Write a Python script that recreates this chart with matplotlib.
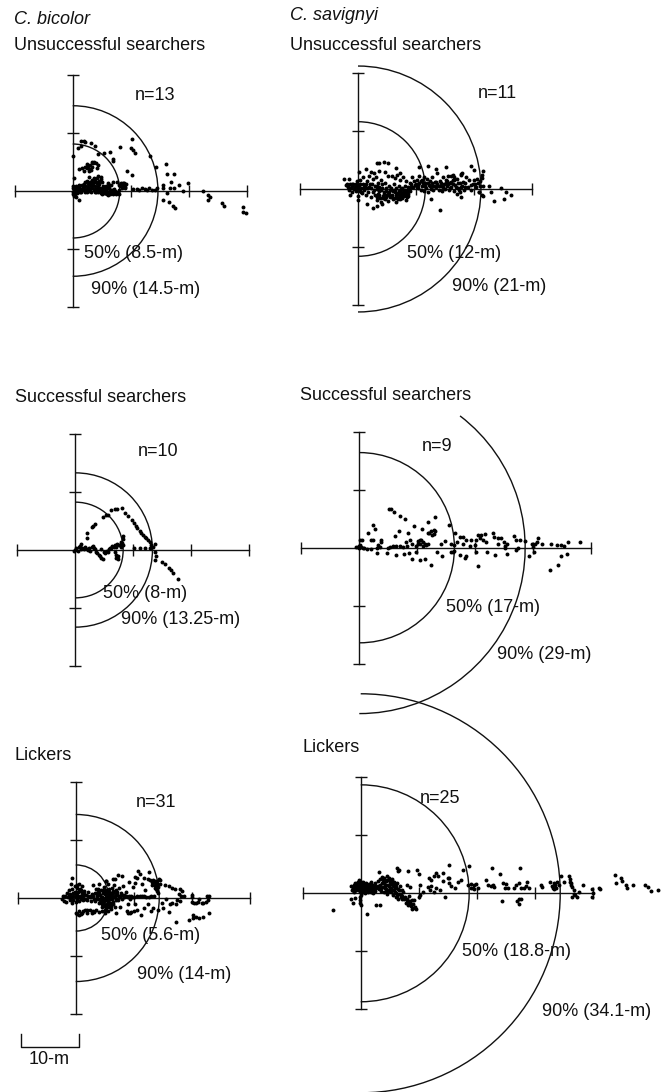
import matplotlib
matplotlib.use("Agg")
import matplotlib.pyplot as plt
from matplotlib.patches import Arc

W, H = 667, 1092
S = 5.8  # px per metre
plt.rcParams["font.family"] = ["Liberation Sans", "DejaVu Sans"]

# track points, metres from the release point
bic_unsucc = [
    (1.5,8.6),(1.9,8.6),(2.1,8.5),(0.9,7.5),(1.4,7.7),(3.1,8.3),(3.8,7.8),(0,6.0),(4.3,6.3),(5.4,6.5),(6.5,6.7),
    (6.9,5.5),(7,5.2),(8.1,7.6),(10.2,9.0),(10,7.4),(10.4,7.1),(10.8,6.6),(13.3,6),(14.4,4.2),(9.4,3.4),(10.2,2.7),
    (16.1,4.6),(16.3,3),(17.5,2.9),(16.9,1.6),(18.4,1),(19.9,1.3),(19,0),(22.4,0),(23.4,-0.7),(23.7,-1.1),(23.3,-1.6),
    (25.7,-2),(26,-2.5),(29.3,-2.7),(29.4,-3.7),(29.9,-3.8),(15.5,-1.5),(16.6,-1.9),(17.3,-2.6),(17.7,-2.9),(16.3,-0.3),
    (16.7,0.5),(15.5,1),(15.6,0.5),(17.5,0.6),
    (1.0,3.8),(1.6,4),(2.2,4.1),(2.5,3.9),(2.9,3.8),(3.2,3.7),(3.4,4.2),(3.5,4.8),(3.3,5),(3.6,5),(4,4.8),(4.4,4.5),
    (2.4,4.6),(4.2,3.9),(1.9,3.5),
    (1,1),(2,1.2),(2.5,1.8),(2.8,2.4),(3,1.2),(3.3,1.9),(3.6,2.3),(4,1.6),(4.4,2.6),(4.5,1.2),(4.8,2.5),(5,1.6),
    (5.3,0.9),(6,1.3),(6.6,1),(7,1.5),(7.7,1.6),(8,1),(8.5,1.2),(8.9,1.4),(9,0.7),(0.3,2.2),
    (0,0.5),(0,-0.2),(0.1,0.9),(0.2,0.2),(0.3,-0.4),(0.4,0.6),(0.5,0),(0.7,0.3),(0.9,-0.2),(1,0.5),(1.2,0.1),(1.4,0.4),
    (1.5,-0.2),(1.7,0.7),(1.9,0.1),(2,0.4),(2.2,-0.1),(2.4,0.3),(2.6,0.7),(2.8,0),(3,0.3),(3.2,-0.2),(3.4,0.5),(3.6,0.1),
    (3.8,0.8),(4,-0.1),(4.2,0.3),(4.4,0.6),(4.6,0),(4.8,-0.3),(5,0.3),(5.2,0.6),(5.4,0),(5.6,-0.3),(5.8,0.2),(6,0.5),
    (6.2,-0.2),(6.4,0.1),(6.6,-0.4),(6.8,0.2),(7,-0.2),(7.3,0),(7.6,-0.3),(7.9,0.1),(8,-0.5),
    (8.2,0.8),(8.5,0.5),(8.8,1),(9,0.6),(8.6,1.3),(9.2,1.2),
    (10.4,0.3),(11,0.4),(11.5,0.2),(12,0.5),(12.4,0.3),(12.8,0.2),(13.2,0.6),(13.7,0.2),(14.2,0.2),(14.5,0.6),
    (0.4,-0.5),(0.6,-1),(1,-1.5),(0.2,-0.8),(5,-0.6),(5.5,-0.4),(6,-0.7),(6.4,-0.3),(7,-0.5),(7.5,-0.6),(7.8,-0.2),(0.8,-0.3),
]
# extra points in the dark parts of the same panel
bic_unsucc_dense = [
    (0.6,0.9),(1.1,0.9),(1.6,0.3),(2.1,0.8),(2.7,0.3),(3.1,0.8),(3.5,1.1),(3.9,0.4),(4.3,0.9),(4.7,0.6),(5.1,0.1),(5.5,0.5),
    (5.9,-0.2),(6.3,0.6),(6.7,0),(7.1,0.3),(2.9,1.6),(3.4,1.4),(3.8,2),(4.2,2.3),(4.6,1.8),(4.2,1.3),(3.7,1.6),(4.9,2),(2.6,1.2),
    (2.2,1.5),(1.6,1.1),(5.7,0.9),(6.3,1),(2.6,4.3),(3,4.4),(2.8,3.4),(1.3,-0.1),(2.5,-0.1),(3.9,-0.2),(4.4,-0.1),(5.2,-0.3),
    (5.9,-0.5),(6.5,-0.6),(7.2,-0.4),(0.2,0.5),(0.5,0.3),(0.1,-0.6),(8.7,0.9),(8.3,1.3),
]
sav_unsucc = [
    (3.3,4.5),(3.6,4.5),(4.5,4.7),(5.2,4.4),(1.4,3.5),(0.2,2.9),(2.3,3),(3.7,3.1),(4.6,3),(6.6,3.7),(7.2,2.7),(10.5,3.8),
    (12.1,3.9),(13.5,3.5),(15.2,3.8),(19.5,3.9),(20,3.3),(21.5,3.1),(18,2.8),(17.8,2.6),(21.4,2.4),(16.3,2.4),(-2.5,1.8),(-1.5,1.7),
    (14.1,-3.6),(23.5,-2),(25.2,-1.7),(25.5,-0.6),(26.3,-1),(24.7,0.1),(22.5,0.5),(22.9,-0.5),(21.6,-1.2),(20.9,-0.5),(12.6,-1.8),
    (2.5,-3.3),(3.3,-3),(4.1,-2.5),(1.5,-2.5),(0,-1.9),(-1.4,-1),(6.6,-2.2),(8.3,-1.9),(17.8,-1.3),
    (-2,0.7),(-1.8,0.3),(-1.6,-0.2),(-1.9,0.9),(-1.4,0.8),(-1.2,0.2),(-1,0.6),(-1,-0.5),(-0.8,0.9),(-0.6,0.3),(-0.4,-0.4),
    (-0.3,0.8),(-0.1,1.3),(0,0.2),(0,-1.2),(0.2,0.7),(0.3,-0.3),(0.4,1.6),(0.6,0.2),(0.7,-0.7),(0.8,2.1),(0.9,0.9),(1,-0.2),
    (1.2,0.5),(1.3,-1),(1.5,1.4),(1.6,0.1),(1.8,-0.6),(1.9,2.3),(2,0.9),(2.2,-1.4),(2.3,0.2),(2.5,1.8),(2.6,-0.5),(2.7,2.7),
    (2.9,0.6),(3,-1),(3.1,2),(3.2,0),
    (3.3,-1.9),(3.4,1),(3.5,-0.8),(3.6,0.3),(3.8,-1.5),(3.9,1.6),(4,-2.2),(4,-0.2),(4.2,0.8),(4.3,-1.2),(4.5,-0.5),(4.6,-1.8),
    (4.7,1),(4.9,0.1),(5,-1),(5.1,-2.0),(5.2,2.3),(5.3,0.5),(5.4,-0.5),(5.5,-1.4),(5.7,0.2),(5.8,2.2),(5.9,-1),(6,-0.3),
    (6.1,-1.8),(6.2,0.8),(6.3,-0.6),(6.4,1.9),(6.5,-1.3),(6.6,0.2),(6.7,-0.8),(6.8,2.4),(6.9,-1.7),(7,-0.3),(7.1,0.6),(7.2,-1),
    (7.3,1.6),(7.4,-0.5),(7.5,-1.5),(7.6,0.2),(7.7,-0.9),(7.8,2),(7.9,-0.2),(8,-1.2),(8.1,0.5),(8.2,-0.6),(8.3,1.3),(8.4,-1.4),
    (8.5,-0.2),(8.6,0.4),(8.7,-0.8),(8.9,1),(9,-0.4),(9.2,0.8),(9.3,2),(9.5,0.3),(9.7,1.4),
    (10,0.8),(10.2,1.6),(10.3,0.2),(10.5,2.2),(10.6,1),(10.8,-0.1),(11,1.5),(11.1,0.6),(11.3,2),(11.4,-0.3),(11.5,1),(11.7,0.2),
    (11.9,1.7),(12,-0.6),(12.2,0.7),(12.4,1.4),(12.5,0),(12.7,2.1),(12.9,0.6),(13,-0.2),(13.2,1.2),(13.4,0.3),(13.6,2.7),(13.7,0.8),
    (13.9,-0.1),(14.1,1.4),(14.3,0.5),(14.5,-0.4),(14.6,2),(14.8,0.9),(15,0),(15.2,1.6),(15.4,0.5),(15.5,2.2),(15.7,-0.2),(15.9,1),
    (16,2.3),(16.1,0.3),(16.3,1.5),(16.5,2),(16.6,-0.4),(16.8,0.7),(17,1.7),(17.1,-0.9),(17.3,0.2),(17.5,1.1),(17.6,-0.5),(17.8,2.4),
    (18,0.6),(18.2,-0.1),(18.5,1),(18.7,2),(19,0.4),(19.2,1.5),(19.5,-0.2),(19.8,0.8),(20,1.6),(20.3,0.3),(20.6,1.8),(20.9,-0.6),
    (21,1.3),(21.3,1.9),(21.4,-1.1),(21.6,0.5),
]
sav_unsucc_dense = [
    (-1.7,0.5),(-1.1,0.9),(-0.7,0),(-0.2,0.5),(0.4,0.9),(0.5,-0.5),(1,0.4),(1.4,0.9),(1.9,0.4),(2.4,0.8),(2.8,-0.1),(3.3,0.6),
    (3.7,-0.4),(4.1,0.2),(4.4,-0.9),(4.8,-0.4),(5.2,-0.9),(5.6,-0.2),(5.9,-1.4),(6.3,-0.1),(6.6,-1),(6.9,-0.7),(7.1,-1.4),(7.4,0),
    (7.6,-1.2),(7.9,-0.6),(8.2,-1),(8.5,-0.6),(8.8,-0.2),(9.1,0.3),(3.2,-1.4),(3.7,-1.1),(4.3,-1.6),(4.9,-1.4),(5.4,-1.1),(6.4,-1.6),
    (7.3,-1.8),(8.7,-1.2),(9.8,0.7),(10.1,0.3),(10.4,0.7),(10.8,1.4),(11.2,1),(11.6,0.5),(12,1.1),(12.4,0.5),(12.8,1),(13.1,0.5),
    (13.5,1.2),(13.9,0.6),(14.3,1),(14.7,0.3),(15.1,1),(15.4,1.3),(15.6,0.9),(15.8,0.1),(16.1,1.2),(16.4,0.8),(16.6,1.6),(16.9,0.3),
    (17.2,1),(17.4,-0.2),(17.8,0.4),(18.1,1.2),(18.4,0.3),(19.4,0.7),(20.1,0.9),(20.7,1.1),(21.1,0.6),
]
bic_succ = [
    (2.1,2),(2.1,2.9),(2.9,3.9),(3.1,4.2),(3.4,4.5),(4.8,5.7),(5.3,6),(5.6,6.1),(6.2,6.9),(6.8,7),(7.2,7),(8.1,7.3),(8.5,6.3),
    (9.1,5.9),(9.7,5.1),(10.1,4.6),(10.4,4.2),(10.7,3.8),(11.1,3.3),(11.4,3),(11.7,2.6),(12,2.3),(12.2,2),(12.5,1.7),(12.8,1.3),
    (13.1,0.9),(13.4,0.5),(13.8,1),(13.7,-0.3),(13.9,-1),(13.8,-1.7),(15,-2),(15.5,-2.4),(16.2,-3.1),(16.5,-3.5),(16.8,-3.9),(17.7,-5),
    (10.2,0.3),(11.1,0.4),(12,0.4),(12.8,0.4),
    (-0.3,-0.2),(0,0),(0.2,0.3),(0.4,-0.1),(0.6,0.6),(0.8,0.7),(0.9,0.2),(1,1),(1.2,0.4),(1.5,0.1),(1.7,0.6),(2,0.2),(2.2,0),
    (2.4,0.4),(2.6,-0.1),(2.8,0.5),(3,0.7),(3.3,0.3),(3.5,-0.3),(3.7,-0.6),(4,-0.9),(4.3,-1.1),(4.5,-1.4),(4.7,-1.6),(5,-0.3),
    (5.2,-0.5),(5.4,-0.1),(5.6,-0.4),(5.8,0.1),(6,0.4),(6.2,0.3),(6.4,0.7),(6.6,0.6),(6.8,0.9),(7,0.5),(7.2,1),(7.5,0.8),(7.8,1.1),
    (7.9,1.4),(8.1,1.2),(8.2,1.9),(8.2,2.4),(8.3,0.9),(7.9,0.6),(7,-0.8),(7.3,-1.0),(7.1,-1.4),(7.3,-1.6),(6.8,-0.4),(3.4,0.2),(4.5,0.1),
]
sav_succ = [
    (-0.6,0.1),(-0.3,0.1),(0,0.3),(0,-0.1),(0.2,0.4),(0.3,0.1),(0.4,1.3),(0.6,0),(0.8,-0.1),
    (5.1,6.7),(5.5,6.6),(5.9,6.2),(7,5.4),(7.9,4.9),(13.1,5.3),(11.9,4.5),(9.4,3.8),(10.8,3.2),(15.5,3.9),(2.4,4),(2.7,3.2),(1.5,2.5),
    (6.8,2.9),(6.1,2.1),(8.4,2.5),(2.1,1.4),(2.4,1.3),(3.8,1.4),(3.7,1),(0.2,1.3),(3.3,0.5),(3.6,0.2),
    (12.1,2.5),(12.4,2.9),(12.8,3),(13.1,2.9),(12.6,2.2),(12.9,2.3),(11.9,2.6),
    (10.1,1.2),(10.4,1.4),(10.7,1.3),(11,1),(11.3,0.7),(11.5,0.5),(11.8,0.7),(10.1,0.6),(10.5,0.6),(11,0.3),(9.8,0.3),(8.1,1),(8.8,1.3),
    (9,0.6),(8.2,0.3),(14.1,0.6),(14.7,1.2),(15.8,0.6),
    (5.3,0.2),(5.8,0.3),(6.4,0.3),(7,0.3),(7.5,0.2),(5,-0.1),(1.3,-0.2),(2.1,-0.3),(3.1,-0.1),
    (3.1,-0.9),(4.7,-0.9),(6.4,-1.2),(7.7,-1.1),(8.5,-0.9),(9,-1.9),(9.8,-0.7),(10.5,-2.2),(11.4,-2),(12.4,-3),(13.4,-0.7),(14.3,-1.4),
    (15.8,-0.8),(16.1,-0.7),(16.4,-0.5),(17.3,-1.3),(18.2,-1.8),(18.4,-1.5),(20.4,-3.1),(20.1,-0.7),(22.1,-0.8),(23.4,-1.3),(25.5,-1),
    (29.3,-1.5),(30.1,-0.7),(32.9,-3.8),(34.2,-2.9),(34.8,-1.4),(35.8,-1),
    (16.5,2.5),(17.3,1.8),(17.8,1.9),(18.4,1.3),(19.3,1.3),(16.9,1),(17.8,0.7),(16.4,0.5),(19,0.3),(19.9,0.5),(20.4,2.2),(21,2.2),(20.2,1.3),
    (20.8,1.6),(21.3,1.3),(21.8,0.9),(21.6,2.3),(23.1,2.5),(23.3,1.8),(23.9,1.6),(24.4,1.6),(23.9,0.6),(25,1),(25.2,0.3),(25.5,0.6),(25.2,-0.1),
    (26.7,2.1),(27,1.3),(27.7,1.3),(27,-0.4),(27.3,-0.1),(28.6,1.2),(29.8,0.7),(30.3,0.7),(29.9,0.2),(30.8,1.6),(30.7,0.9),(31.5,0.7),(33.1,0.6),
    (34.1,0.5),(34.7,0.5),(35.3,0.3),(36,1),(38.1,0.9),
]
bic_lick = [
    (-2.4,-0.2),(-2.2,0.3),(-2,-0.5),(-1.8,0.4),(-1.6,-0.7),(-1.5,0.9),(-1.3,0.1),(-1.1,1.3),(-1,-0.3),(-0.9,0.7),(-0.7,-0.8),(-0.6,1.6),
    (-0.5,0.3),(-0.4,-0.3),(-0.2,1),(-0.1,2.1),(0,0.1),(-0.7,3.4),(-0.8,2.5),
    (0,-0.7),(0.1,0.7),(0.2,1.8),(0.3,-0.2),(0.4,1.1),(0.5,2.4),(0.5,0.2),(0.6,-0.6),(0.7,1.5),(0.8,0.4),(0.9,-0.1),(1,2),(1.1,0.9),(1.2,-0.4),
    (1.3,0.3),(1.5,1.2),(1.6,-0.1),(1.8,0.5),(2,-0.3),(2.2,1.1),(2.4,0.2),(2.6,-0.5),(2.8,0.7),(3,2.2),(3.1,-0.1),(3.3,0.8),(3.4,-0.6),(3.5,1.6),
    (3.6,0.3),(3.8,-0.2),(3.9,1.1),(4,-0.8),(4.1,2.5),(4.2,0.5),(4.3,-0.3),(4.4,1.4),(4.5,-1),(4.6,0.2),(4.7,0.9),(4.8,-0.6),(4.9,1.9),(5,0),
    (5,-1.3),(5.1,0.7),(5.2,-0.4),(5.3,1.4),(5.4,-1),(5.5,0.3),(5.6,2.4),(5.7,-0.2),(5.8,1),(5.9,-0.8),(6,0.4),(6.1,-1.4),(6.2,1.7),(6.3,-0.1),
    (6.4,0.9),(6.5,-0.7),(5.3,2.9),(5.2,3),
    (6.6,2.2),(6.8,0.3),(6.9,-0.4),(7,1.4),(7.2,0.6),(7.3,-0.3),(7.5,1.7),(7.6,0.1),(7.8,0.9),(8,-0.2),(8.2,2),(8.4,0.2),(8.7,1),(9,0.1),(9.2,2.8),
    (9.3,-0.1),(9.6,0.4),(9.8,1.9),(10,0.1),(10.3,2.6),(10.5,0.4),(10.2,3.7),(10.7,4.6),(11,4.2),(10.6,3.4),(11.4,2.5),(11.5,0.4),(11.8,3.5),(12,1.3),
    (12.2,0.2),(12.5,3.2),(12.7,4.4),(8,3.8),(7.3,4),(6.8,3.3),(6.5,3.2),(13,0.3),
    (12.8,3.1),(13.1,2.8),(13.4,3.1),(13.7,2.9),(14,3),(14.3,3.2),(14.6,3.1),(13.2,2.3),(13.6,2.3),(14,2.4),(14.2,1.9),(13.7,1.7),(14,1.2),(14.2,0.9),(14.5,2.5),
    (15.4,2.3),(16,2),(16.6,1.8),(17.2,1.5),(18,1.6),(18.4,1.2),(17.8,0.7),(18.1,0.3),(18.6,0.3),(16.3,-1),(15.5,-0.2),
    (20,0.6),(20,0.2),(20.1,-0.7),(20.4,-0.8),(20.8,-0.9),(21.1,-0.7),(21.3,-0.2),(21.7,-0.8),(22,-0.9),(22.5,-0.7),(22.8,-0.3),(23,0.3),(22.7,0.4),
    (17.3,-4.1),(19.5,-3.8),(20.2,-3.5),(20.7,-3.3),(21.3,-3.5),(21.9,-3.2),(22.9,-2.6),(20.2,-2.9),
    (0.3,-2.7),(0.6,-2.9),(0.9,-2.8),(0.5,-2.2),(1.2,-2.2),(1.6,-2),(2,-2.5),(2.4,-2.1),(2.8,-2.6),(3.2,-2.4),(3.5,-2.1),(4.1,-2.4),(4.6,-2.2),(5,-2),
    (5.5,-2.3),(5.1,-2.6),(6.9,-2.5),(9,-2.6),(8.8,-2.3),(9.3,-2.6),(9.6,-2.4),(10,-2.2),(10.6,-2),(11.2,-2.9),(11.8,-1.8),(12.4,-1),(12.9,-2.3),(13.4,-1.7),
    (14.2,-2),(15,-1.8),(16,-2.4),(10.2,-1),(9,-1.1),(7.7,-1.6),(14.8,-0.8),(16.6,-0.8),(17.3,-1),(18,-0.6),(17.4,-0.3),(5.2,-1.7),(6,-1.9),(5.5,-0.7),
]
bic_lick_dense = [
    (-1.2,0.6),(-0.8,0.1),(-0.4,0.8),(0.2,0.5),(0.6,1.2),(1,0.3),(1.4,0.7),(0.9,1.4),(0.3,2.2),(2.2,0.3),(2.6,0.3),(3,0.3),(3.3,-0.2),(3.7,0.7),
    (3.8,1.6),(4.1,0.9),(4.2,-0.7),(4.4,0.2),(4.6,-0.6),(4.7,1.4),(4.9,-0.2),(5.1,1.2),(5.3,0.2),(5.4,0.8),(5.6,-0.6),(5.7,0.5),(5.8,1.5),(5.9,-0.2),
    (6.1,0.9),(6.2,-0.9),(6.3,0.4),(6.5,1.2),(6.7,0.2),(6.9,0.8),(7,-0.1),(7.2,1),(7.4,0.3),(7.7,0.4),(8,0.5),(8.3,0.6),(8.7,0.3),(9.2,0.4),(9.7,0.2),
    (4.5,-1.5),(4.9,-1.1),(5.3,-1.5),(5.7,-1.1),(6.4,-1.1),(6.7,-1.5),(5.8,-1.6),(0.1,-2.5),(1,-2.5),(1.9,-2.1),(2.9,-2.2),(11,0.3),(11.7,0.3),(12.6,0.2),(13.5,0.4),
    (13.4,2.7),(13.8,2.6),(13.9,2),(13.9,1.6),
]
sav_lick = [
    (-1.6,1.2),(-1.5,0.5),(-1.3,0.9),(-1.2,1.5),(-1.1,0.2),(-1,1),(-0.9,1.7),(-0.8,0.5),(-0.7,1.3),(-0.5,2),(-0.5,0.7),(-0.4,1.1),(-0.3,2.3),(-0.2,0.3),
    (-0.1,1.6),(0,0.8),(0.1,1.9),(0.2,0.3),(0.3,1.2),(0.4,2),(0.5,0.6),(0.6,1.5),(0.7,0.1),(0.8,1),(0.9,1.7),(1,0.5),(1.1,1.3),(1.2,0.9),(1.3,0.2),(1.4,1.6),
    (1.5,0.7),(1.6,1.2),(1.7,0.3),(1.8,2),(1.9,1),(2,1.5),(2.1,0.5),(2.2,0.1),(2.3,1.1),(2.4,1.8),(2.5,0.4),(2.6,0.9),
    (-0.1,-1.1),(-0.2,-1.6),(0,-2),(-0.2,-0.6),(0.1,-0.3),(-1.4,-1.6),(-1.7,-1),(-0.9,-0.8),(-4.7,-2.9),(1,-3.6),(2.6,-2),(3.4,-2),
    (2.9,1.3),(3,2.2),(3.2,0.7),(3.3,2.5),(3.4,1.5),(3.5,0.4),(3.7,2.8),(3.8,1.1),(3.9,1.9),(4,0.2),(4.1,2.6),(4.2,1.3),(4.3,0.7),(4.4,2.2),(4.5,2.9),(4.6,-0.1),
    (4.7,1.5),(4.8,0.6),(4.9,2.6),(5,1.9),(5.1,1),(5.2,0.2),(5.3,1.6),(5.4,2.4),(5.5,0.6),(5.6,-0.3),(5.7,1.3),(5.8,2),(5.9,0.3),(6,-0.7),(6.1,1.1),(6.2,1.8),
    (6.3,-0.2),(6.5,-0.9),(6.6,0.5),(6.8,1.3),(7,-0.3),(7.2,-0.9),(7.3,0.3),
    (7.2,-0.5),(7.5,-1),(7.8,-1.6),(8,-1),(8.2,-2),(8.5,-1.4),(8.7,-2.2),(8.9,-2.7),(9,-1.8),(9.3,-2.3),(9.5,-2.7),(9.2,-1.1),(8.3,-0.5),
    (3.1,3.7),(6.2,4.3),(6.6,4.1),(6.4,3.9),(8.2,3.8),(9.7,4),(10.1,3.3),(12.9,3.5),(14.2,3.5),(15.3,4.9),(17.6,4.1),(18.7,4.7),(12.7,3),(11.7,2.7),(12.2,2.3),
    (13.4,3),(15.3,2.7),(15,2.6),(14.2,2.1),(17.3,2.3),(16.7,2),(15.2,1.7),(15.6,1.3),(16.2,1),(7.9,1.4),(8.5,1.1),(10.2,1.4),(11.6,1.1),(12.2,1.3),(13,1),(11.9,0.6),
    (12.6,0.3),(13.6,0.6),(10.7,0.3),(10.2,-0.3),(10.1,-0.6),(14.5,-0.6),
    (18.5,1.4),(19,1.6),(19,0.9),(19.6,1.5),(20.2,0.9),(19.3,1),(19.6,0.7),(19.9,1.6),
    (21.6,2.3),(22.7,4.4),(24,3.4),(22,1.5),(22.5,1.3),(23,1.1),(22.8,1.4),(24.5,1.7),(25.1,1.6),(24.8,0.9),(25.4,0.9),(24.3,-1.4),(27.5,4.3),(26.7,1.5),(27.3,1.8),
    (26.5,1),(27.6,1),(28.7,2),(28.5,1.3),(29,0.9),(28.2,0.9),(27.3,-1),(27,-1.3),(27.3,-1.8),(27.6,-1),
    (31,1.5),(31.3,1.1),(32.7,2),(33.3,1.7),(33.9,2),(33,1.3),(33.6,1),(34.2,1.4),(33.3,0.7),(34.5,2.9),(35,2),(35.9,2.9),(36,2.4),(36.2,1.7),(36.5,1.1),(36.8,0.6),
    (37,-0.3),(36.5,-0.6),(37.3,-0.6),(37.6,0.3),(38.3,1.5),(39.9,0.7),(40,0),(39.9,-0.6),(41,1),(41.3,0.7),
    (43.8,3.1),(44.9,2.7),(45,2.2),(44,1.8),(45.7,1.4),(45.9,1),(46.9,1.5),(49,1.4),(49.6,1.1),(50,0.4),(51.3,0.6),
]
sav_lick_dense = [
    (-1.2,0.4),(-0.8,1.1),(-0.6,1.7),(-0.3,0.6),(-0.2,1.2),(0.1,1.3),(0.2,0.8),(0.4,0.3),(0.4,1.5),(0.7,0.7),(0.8,1.5),(1,1),(1.2,0.4),(1.3,1.3),(1.6,0.7),
    (1.7,1.6),(2,0.9),(2.2,0.7),(2.4,1.3),(3.5,1),(3.6,1.8),(3.8,2.4),(4.1,1.7),(4.2,0.9),(4.4,1.5),(4.5,0.4),(4.6,2.3),(4.9,1.2),(5,0.4),(5.1,2.2),(5.3,0.9),
    (5.5,1.4),(5.6,1.9),(5.7,0.6),(5.9,0.9),(6,1.6),(6.1,0.1),(6.2,-0.5),(6.4,0.8),(6.7,-0.2),(6.9,-0.7),(7.1,0.5),(7.6,-0.6),(7.9,-1.2),(8.3,-1.5),(8.6,-1.8),
    (8.8,-1.2),(9.1,-2.5),(33.5,1.4),(33.1,1),(36.1,2),(36.3,1.4),(36.7,-0.2),
]

tracks = [
    bic_unsucc + bic_unsucc_dense,
    sav_unsucc + sav_unsucc_dense,
    bic_succ,
    sav_succ,
    bic_lick + bic_lick_dense,
    sav_lick + sav_lick_dense,
]
r50 = [8.1, 11.6, 8.25, 16.4, 5.7, 18.7]
r90 = [14.7, 21.2, 13.3, 28.6, 14.4, 34.4]
labels50 = ["50% (8.5-m)", "50% (12-m)", "50% (8-m)", "50% (17-m)", "50% (5.6-m)", "50% (18.8-m)"]
labels90 = ["90% (14.5-m)", "90% (21-m)", "90% (13.25-m)", "90% (29-m)", "90% (14-m)", "90% (34.1-m)"]
n_labels = ["n=13", "n=11", "n=10", "n=9", "n=31", "n=25"]
x_ends = [30, 30, 30, 40, 30, 40]
end_angle90 = [90, 90, 90, 52.6, 90, 90]

# layout in picture pixels
origins = [(72.7, 191), (358, 189), (75.3, 550), (359.3, 547.7), (75.7, 898), (360.7, 893.3)]
pos50 = [(84, 253), (406.7, 253), (103, 594), (445.7, 607), (101, 936), (461.7, 952)]
pos90 = [(90.7, 289.5), (452, 286.5), (120.7, 619.5), (496.7, 654.5), (137, 974.5), (541.7, 1012)]
pos_n = [(155, 95.5), (497, 93.5), (158, 451.5), (437, 446.5), (156, 802.5), (440, 798.5)]

headings = [
    ("C. bicolor", 14, 19, "italic"),
    ("C. savignyi", 290, 16, "italic"),
    ("Unsuccessful searchers", 14, 46, "normal"),
    ("Unsuccessful searchers", 290, 45, "normal"),
    ("Successful searchers", 15, 397, "normal"),
    ("Successful searchers", 300, 395, "normal"),
    ("Lickers", 15, 755, "normal"),
    ("Lickers", 302, 747, "normal"),
]

FS = 13
INK = "#111111"
fig = plt.figure(figsize=(W / 100, H / 100), dpi=100, facecolor="white")


def put(txt, x, y, ha="left", style="normal"):
    fig.text(x / W, 1 - y / H, txt, ha=ha, va="center", fontsize=FS, style=style, color=INK)


axes = []
for i, pts in enumerate(tracks):
    ox, oy = origins[i]
    xe = x_ends[i]
    ax = fig.add_axes([(ox - 10 * S) / W, 1 - (oy + 20 * S) / H, (10 + xe) * S / W, 40 * S / H])
    ax.set_xlim(-10, xe)
    ax.set_ylim(-20, 20)
    ax.patch.set_visible(False)
    for side in ["top", "right"]:
        ax.spines[side].set_visible(False)
    ax.spines["left"].set_position(("data", 0))
    ax.spines["bottom"].set_position(("data", 0))
    ax.spines["left"].set_linewidth(1.0)
    ax.spines["bottom"].set_linewidth(1.0)
    ax.spines["left"].set_color(INK)
    ax.spines["bottom"].set_color(INK)
    ax.set_xticks([t for t in range(-10, xe + 1, 10) if t != 0])
    ax.set_yticks([-20, -10, 10, 20])
    ax.tick_params(direction="inout", length=8.5, width=1.0, color=INK, labelbottom=False, labelleft=False)

    xs = [p[0] for p in pts]
    ys = [p[1] for p in pts]
    ax.scatter(xs, ys, s=8, c="black", linewidths=0, clip_on=False, zorder=3)

    ax.add_patch(Arc((0, 0), 2 * r50[i], 2 * r50[i], theta1=-90, theta2=90, lw=1.0, color=INK, clip_on=False))
    ax.add_patch(Arc((0, 0), 2 * r90[i], 2 * r90[i], theta1=-90, theta2=end_angle90[i], lw=1.0, color=INK, clip_on=False))

    put(labels50[i], *pos50[i])
    put(labels90[i], *pos90[i])
    put(n_labels[i], *pos_n[i], ha="center")
    axes.append(ax)

for txt, x, y, style in headings:
    put(txt, x, y, style=style)

# 10 m scale bar, drawn in the metres of the lower left panel
bar_x = -9.5
axes[4].plot([bar_x, bar_x, bar_x + 10, bar_x + 10], [-23.4, -25.7, -25.7, -23.4], color=INK, lw=1.0, clip_on=False)
put("10-m", 49, 1060, ha="center")

fig.savefig("out.png", dpi=100)
